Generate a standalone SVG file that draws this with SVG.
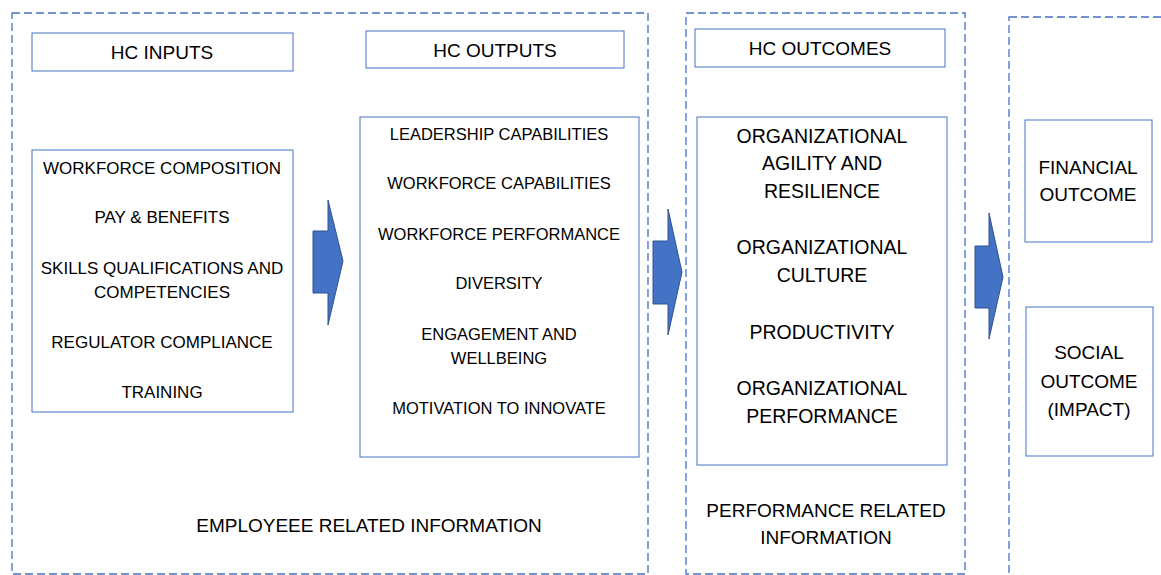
<svg xmlns="http://www.w3.org/2000/svg" width="1161" height="575" viewBox="0 0 1161 575">
<style>
.cont{fill:none;stroke:#4472C4;stroke-width:1.3;stroke-dasharray:8 4}
.box{fill:#fff;stroke:#4472C4;stroke-width:1}
.arr{fill:#4472C4;stroke:#2F528F;stroke-width:1}
text{font-family:"Liberation Sans",Arial,sans-serif;fill:#000;text-anchor:middle}
.s16{font-size:16.5px}
.s17{font-size:17px}
.s18{font-size:19.5px}
.s19{font-size:19px}
</style>
<rect width="1161" height="575" fill="#fff"/>
<g id="containers">
<rect id="c-employee" class="cont" x="12" y="13" width="636" height="561"/>
<rect id="c-performance" class="cont" x="686" y="13" width="279" height="561"/>
<rect id="c-impact" class="cont" x="1009" y="17" width="170" height="570"/>
</g>
<g id="connectors">
<polygon class="arr" points="313,231 328,231 328,200 343,261 328,325 328,293 313,293"/>
<polygon class="arr" points="653,241 668,241 668,209 682,272 668,335 668,304 653,304"/>
<polygon class="arr" points="975,246 989,246 989,213 1003,277 989,339 989,308 975,308"/>
</g>
<g id="hc-inputs">
<rect class="box" x="32" y="33" width="261" height="38"/>
<text class="s19" x="162" y="59">HC INPUTS</text>
</g>
<g id="hc-outputs">
<rect class="box" x="366" y="31" width="258" height="37"/>
<text class="s19" x="495" y="57">HC OUTPUTS</text>
</g>
<g id="hc-outcomes">
<rect class="box" x="695" y="29" width="250" height="38"/>
<text class="s19" x="820" y="55">HC OUTCOMES</text>
</g>
<g id="inputs-list">
<rect class="box" x="32" y="150" width="261" height="262"/>
<text class="s17" x="162" y="174">WORKFORCE COMPOSITION</text>
<text class="s17" x="162" y="223">PAY &amp; BENEFITS</text>
<text class="s17" x="162" y="274">SKILLS QUALIFICATIONS AND</text>
<text class="s17" x="162" y="298">COMPETENCIES</text>
<text class="s17" x="162" y="348">REGULATOR COMPLIANCE</text>
<text class="s17" x="162" y="398">TRAINING</text>
</g>
<g id="outputs-list">
<rect class="box" x="360" y="117" width="279" height="340"/>
<text class="s16" x="499" y="140">LEADERSHIP CAPABILITIES</text>
<text class="s16" x="499" y="189">WORKFORCE CAPABILITIES</text>
<text class="s16" x="499" y="240">WORKFORCE PERFORMANCE</text>
<text class="s16" x="499" y="289">DIVERSITY</text>
<text class="s16" x="499" y="340">ENGAGEMENT AND</text>
<text class="s16" x="499" y="364">WELLBEING</text>
<text class="s16" x="499" y="414">MOTIVATION TO INNOVATE</text>
</g>
<g id="outcomes-list">
<rect class="box" x="697" y="117" width="250" height="348"/>
<text class="s18" x="822" y="143">ORGANIZATIONAL</text>
<text class="s18" x="822" y="170">AGILITY AND</text>
<text class="s18" x="822" y="198">RESILIENCE</text>
<text class="s18" x="822" y="254">ORGANIZATIONAL</text>
<text class="s18" x="822" y="282">CULTURE</text>
<text class="s18" x="822" y="339">PRODUCTIVITY</text>
<text class="s18" x="822" y="395">ORGANIZATIONAL</text>
<text class="s18" x="822" y="423">PERFORMANCE</text>
</g>
<g id="financial-outcome">
<rect class="box" x="1025" y="120" width="127" height="122"/>
<text class="s19" x="1088" y="174">FINANCIAL</text>
<text class="s19" x="1088" y="201">OUTCOME</text>
</g>
<g id="social-outcome">
<rect class="box" x="1026" y="307" width="127" height="149"/>
<text class="s19" x="1089" y="359">SOCIAL</text>
<text class="s19" x="1089" y="388">OUTCOME</text>
<text class="s19" x="1089" y="416">(IMPACT)</text>
</g>
<g id="labels">
<text class="s19" x="369" y="532">EMPLOYEEE RELATED INFORMATION</text>
<text class="s19" x="826" y="517">PERFORMANCE RELATED</text>
<text class="s19" x="826" y="544">INFORMATION</text>
</g>
</svg>
